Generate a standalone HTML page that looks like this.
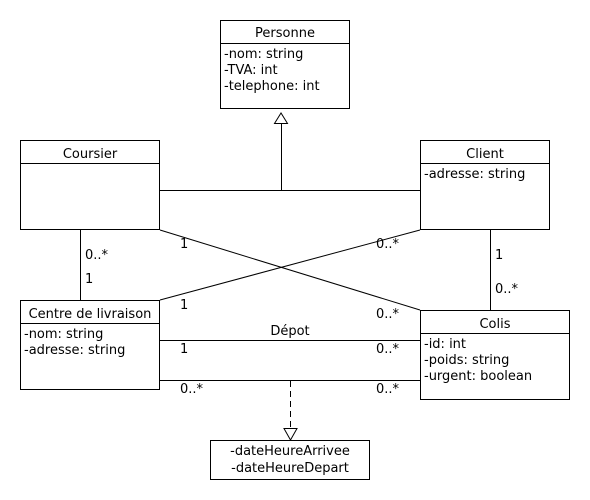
<!DOCTYPE html>
<html><head><meta charset="utf-8"><style>
html,body{margin:0;padding:0;background:#fff;}
svg{display:block;}
text{font-family:"DejaVu Sans","Liberation Sans",sans-serif;font-size:13px;fill:#000;}
</style></head><body>
<svg width="590" height="500" viewBox="0 0 590 500">
<g fill="none" stroke="#000" stroke-width="1">
<rect x="220.5" y="20.5" width="129" height="88"/>
<line x1="220" y1="43.5" x2="350" y2="43.5"/>
<rect x="20.5" y="140.5" width="139" height="89"/>
<line x1="20" y1="163.5" x2="160" y2="163.5"/>
<rect x="420.5" y="140.5" width="129" height="89"/>
<line x1="420" y1="163.5" x2="550" y2="163.5"/>
<rect x="20.5" y="300.5" width="139" height="89"/>
<line x1="20" y1="323.5" x2="160" y2="323.5"/>
<rect x="420.5" y="310.5" width="149" height="89"/>
<line x1="420" y1="333.5" x2="570" y2="333.5"/>
<rect x="210.5" y="440.5" width="159" height="39"/>
<polygon points="281,113 274.5,123.5 287.5,123.5"/>
<line x1="281.5" y1="123.5" x2="281.5" y2="190.5"/>
<line x1="160" y1="190.5" x2="420" y2="190.5"/>
<line x1="80.5" y1="230" x2="80.5" y2="300"/>
<line x1="490.5" y1="230" x2="490.5" y2="310"/>
<line x1="160" y1="230" x2="420" y2="310"/>
<line x1="420" y1="230" x2="160" y2="300"/>
<line x1="160" y1="340.5" x2="420" y2="340.5"/>
<line x1="160" y1="380.5" x2="420" y2="380.5"/>
<line x1="290.5" y1="381" x2="290.5" y2="428" stroke-dasharray="6,4"/>
<polygon points="290.5,440 284,428.5 297,428.5"/>
</g>
<text x="285" y="37" text-anchor="middle">Personne</text>
<text x="224" y="58">-nom: string</text>
<text x="224" y="74">-TVA: int</text>
<text x="224" y="90">-telephone: int</text>
<text x="90" y="158" text-anchor="middle">Coursier</text>
<text x="485" y="158" text-anchor="middle">Client</text>
<text x="424" y="178">-adresse: string</text>
<text x="90" y="318" text-anchor="middle">Centre de livraison</text>
<text x="24" y="338">-nom: string</text>
<text x="24" y="354">-adresse: string</text>
<text x="495" y="328" text-anchor="middle">Colis</text>
<text x="424" y="348">-id: int</text>
<text x="424" y="364">-poids: string</text>
<text x="424" y="380">-urgent: boolean</text>
<text x="290" y="455" text-anchor="middle">-dateHeureArrivee</text>
<text x="290" y="472" text-anchor="middle">-dateHeureDepart</text>
<text x="85" y="259">0..*</text>
<text x="85" y="283">1</text>
<text x="495" y="259">1</text>
<text x="495" y="293">0..*</text>
<text x="180" y="248">1</text>
<text x="376" y="248">0..*</text>
<text x="180" y="309">1</text>
<text x="376" y="318">0..*</text>
<text x="290" y="335" text-anchor="middle">Dépot</text>
<text x="180" y="353">1</text>
<text x="376" y="353">0..*</text>
<text x="180" y="393">0..*</text>
<text x="376" y="393">0..*</text>
</svg>
</body></html>
